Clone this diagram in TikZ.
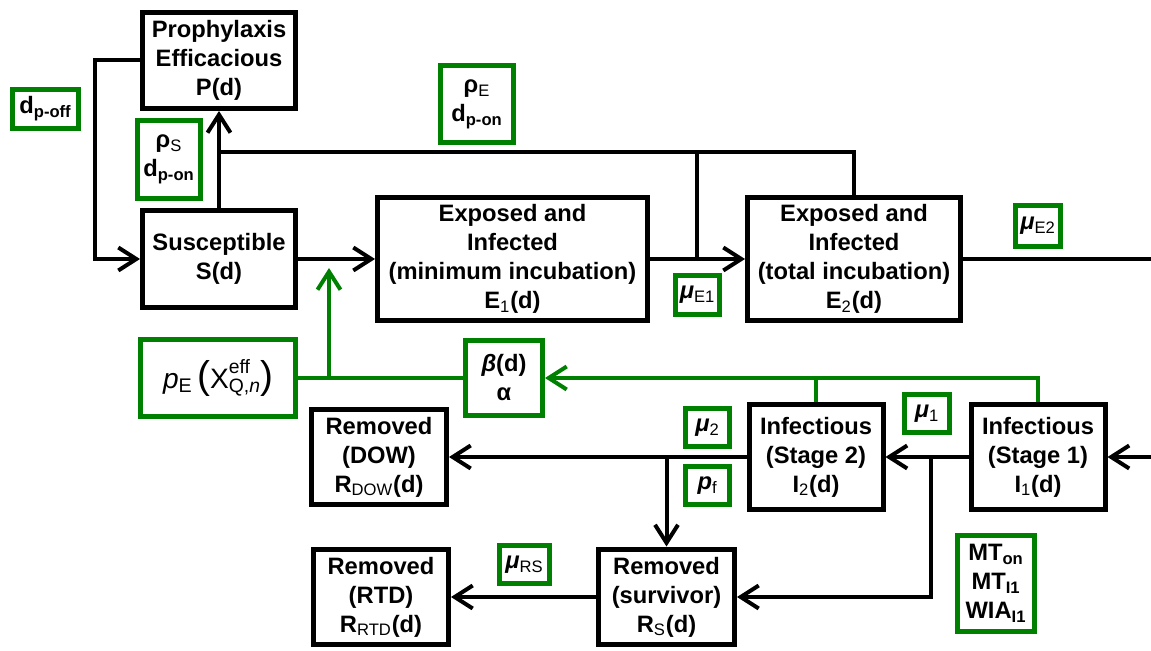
\documentclass[tikz,border=0pt]{standalone}
\usepackage{fontspec}
\setmainfont{Liberation Sans}
\usetikzlibrary{arrows.meta}
\definecolor{pgreen}{RGB}{0,128,0}
\newcommand{\lsub}[1]{\textsubscript{\mdseries #1}}
\newcommand{\bsub}[1]{\textsubscript{#1}}
\begin{document}
\begin{tikzpicture}[x=0.02cm, y=-0.02cm,
    every node/.style={font=\fontsize{13.5}{16.5}\selectfont\bfseries, align=center, inner sep=0pt},
    box/.style={draw, line width=0.1cm},
    gbox/.style={draw=pgreen, line width=0.1cm},
    line/.style={line width=0.08cm},
    arr/.style={line, -{Straight Barb[length=0.36cm,width=0.46cm]}},
    gline/.style={line, pgreen},
    garr/.style={gline, -{Straight Barb[length=0.36cm,width=0.46cm]}}]
  \useasboundingbox (0,0) rectangle (1151,651);
  % compartments
  \node (P) at (219,60.5) [box, minimum width=3.06cm, minimum height=1.92cm] {Prophylaxis\\Efficacious\\P(d)};
  \node (S) at (219,259) [box, minimum width=3.06cm, minimum height=1.94cm] {Susceptible\\S(d)};
  \node (E1) at (512.5,259) [box, minimum width=5.40cm, minimum height=2.46cm] {Exposed and\\Infected\\(minimum incubation)\\E\lsub{1}(d)};
  \node (E2) at (854,259) [box, minimum width=4.26cm, minimum height=2.46cm] {Exposed and\\Infected\\(total incubation)\\E\lsub{2}(d)};
  \node (I2) at (816,457) [box, minimum width=2.68cm, minimum height=2.12cm] {Infectious\\(Stage 2)\\I\lsub{2}(d)};
  \node (I1) at (1038,457) [box, minimum width=2.68cm, minimum height=2.12cm] {Infectious\\(Stage 1)\\I\lsub{1}(d)};
  \node (RDOW) at (379,457) [box, minimum width=2.70cm, minimum height=1.90cm] {Removed\\(DOW)\\R\lsub{DOW}(d)};
  \node (RS) at (666.5,597) [box, minimum width=2.72cm, minimum height=1.92cm] {Removed\\(survivor)\\R\lsub{S}(d)};
  \node (RRTD) at (381,597) [box, minimum width=2.70cm, minimum height=1.90cm] {Removed\\(RTD)\\R\lsub{RTD}(d)};
  % parameters
  \node (dpoff) at (45.5,109) [gbox, minimum width=1.32cm, minimum height=0.78cm] {d\bsub{p-off}};
  \node (rhoS) at (169,159.5) [gbox, minimum width=1.26cm, minimum height=1.56cm] {ρ\lsub{S}\\d\bsub{p-on}};
  \node (rhoE) at (477,104) [gbox, minimum width=1.46cm, minimum height=1.54cm] {ρ\lsub{E}\\d\bsub{p-on}};
  \node (muE1) at (697.5,295) [gbox, minimum width=0.88cm, minimum height=0.78cm] {\textit{μ}\lsub{E1}};
  \node (muE2) at (1038,226) [gbox, minimum width=0.90cm, minimum height=0.82cm] {\textit{μ}\lsub{E2}};
  \node (pE) at (218,378) [gbox, minimum width=3.10cm, minimum height=1.54cm]
    {\fontsize{16}{18}\selectfont\mdseries\textit{p}\textsubscript{E}\,{\fontsize{22}{22}\selectfont(}X{\fontsize{11}{11}\selectfont\rlap{\raisebox{8.5pt}{eff}}\raisebox{-2.5pt}{Q,\textit{n}}}{\fontsize{22}{22}\selectfont)}};
  \node (beta) at (504,378) [gbox, minimum width=1.54cm, minimum height=1.50cm] {\textit{β}(d)\\α};
  \node (mu2) at (707.5,427.5) [gbox, minimum width=0.88cm, minimum height=0.76cm] {\textit{μ}\lsub{2}};
  \node (pf) at (707.5,485.5) [gbox, minimum width=0.88cm, minimum height=0.76cm] {\textit{p}\lsub{f}};
  \node (mu1) at (927,413.5) [gbox, minimum width=0.90cm, minimum height=0.76cm] {\textit{μ}\lsub{1}};
  \node (MT) at (996,583.5) [gbox, minimum width=1.54cm, minimum height=1.92cm] {MT\bsub{on}\\MT\bsub{I1}\\WIA\bsub{I1}};
  \node (muRS) at (524.5,564.5) [gbox, minimum width=1.00cm, minimum height=0.76cm] {\textit{μ}\lsub{RS}};
  % junctions and free ends
  \coordinate (jP) at (219,152);
  \coordinate (jE) at (697,259);
  \coordinate (gS) at (329,268);
  \coordinate (outE) at (1151,259);
  \coordinate (inI) at (1151,457);
  \coordinate (j1) at (931,457);
  % black flows
  \draw [arr] (P.west) -- ++(-45,0) |- (S.west);
  \draw [arr] (S.north) -- (P.south);
  \draw [line] (jP) -| (E2.north);
  \draw [line] (jE) -- (jE |- jP);
  \draw [arr] (S.east) -- (E1.west);
  \draw [arr] (E1.east) -- (E2.west);
  \draw [line] (E2.east) -- (outE);
  \draw [arr] (inI) -- (I1.east);
  \draw [arr] (I1.west) -- (I2.east);
  \draw [arr] (j1) |- (RS.east);
  \draw [arr] (I2.west) -- (RDOW.east);
  \draw [arr] (RS.north |- I2.west) -- (RS.north);
  \draw [arr] (RS.west) -- (RRTD.east);
  % green flows
  \draw [gline] (pE.east) -- (beta.west);
  \draw [garr] (gS |- pE.east) -- (gS);
  \draw [garr] (I1.north) |- (beta.east);
  \draw [gline] (I2.north) -- (I2.north |- beta.east);
\end{tikzpicture}
\end{document}
